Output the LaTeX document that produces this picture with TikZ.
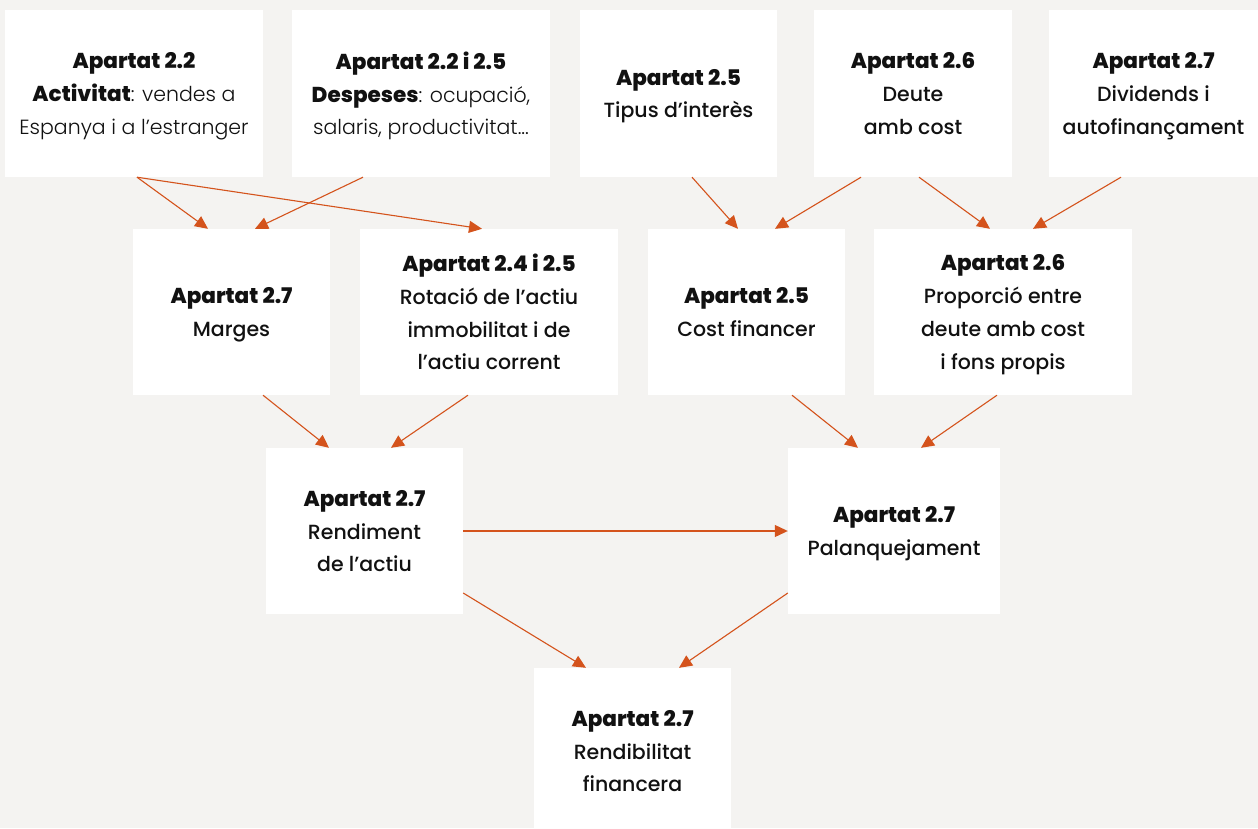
\documentclass[tikz,border=0pt]{standalone}
\usepackage{fontspec}
\setmainfont{Poppins}[UprightFont=* Light, BoldFont=* ExtraBold, BoldFeatures={Scale=1.05}]
\newfontfamily\medfont{Poppins}[UprightFont=* Medium, BoldFont=* ExtraBold, BoldFeatures={Scale=1.05}]
\usetikzlibrary{arrows.meta}
\definecolor{bg}{HTML}{F4F3F1}
\definecolor{arrc}{HTML}{D4531C}
\definecolor{txt}{HTML}{111111}
\tikzset{
  box/.style={fill=white, draw=none, align=center, inner sep=0pt, text=txt,
    text depth=0pt, font=\fontsize{20.5}{32.7}\selectfont},
  mbox/.style={box, font=\fontsize{20.5}{32.7}\selectfont\medfont},
  arr/.style={draw=arrc, line width=1.1pt, -{Triangle[length=13pt,width=12pt]}}
}
\begin{document}
\begin{tikzpicture}[x=1pt,y=-1pt]
\useasboundingbox (0,0) rectangle (1258,828);
\fill[bg] (0,0) rectangle (1258,828);
\begin{scope}
\clip (0,0) rectangle (1258,828);
\node[box, minimum width=258pt, minimum height=167pt] (A) at (134,93.5) {\textbf{Apartat 2.2}\\\textbf{Activitat}: vendes a\\Espanya i a l’estranger};
\node[box, minimum width=258pt, minimum height=167pt] (B) at (421,93.5) {\textbf{Apartat 2.2 i 2.5}\\\textbf{Despeses}: ocupació,\\salaris, productivitat...};
\node[mbox, minimum width=197pt, minimum height=167pt] (C) at (678.5,93.5) {\textbf{Apartat 2.5}\\Tipus d’interès};
\node[mbox, minimum width=198pt, minimum height=167pt] (D) at (913,93.5) {\textbf{Apartat 2.6}\\Deute\\amb cost};
\node[mbox, minimum width=209pt, minimum height=167pt] (E) at (1153.5,93.5) {\textbf{Apartat 2.7}\\Dividends i\\autofinançament};
\node[mbox, minimum width=197pt, minimum height=166pt] (F) at (231.5,312) {\textbf{Apartat 2.7}\\Marges};
\node[mbox, minimum width=258pt, minimum height=166pt] (G) at (489,312) {\textbf{Apartat 2.4 i 2.5}\\Rotació de l’actiu\\immobilitat i de\\l’actiu corrent};
\node[mbox, minimum width=197pt, minimum height=166pt] (H) at (746.5,312) {\textbf{Apartat 2.5}\\Cost financer};
\node[mbox, minimum width=258pt, minimum height=166pt] (I) at (1003,312) {\textbf{Apartat 2.6}\\Proporció entre\\deute amb cost\\i fons propis};
\node[mbox, minimum width=197pt, minimum height=166pt] (J) at (364.5,531) {\textbf{Apartat 2.7}\\Rendiment\\de l’actiu};
\node[mbox, minimum width=212pt, minimum height=166pt] (K) at (894,531) {\textbf{Apartat 2.7}\\Palanquejament};
\node[mbox, minimum width=197pt, minimum height=166pt] (L) at (632.5,751) {\textbf{Apartat 2.7}\\Rendibilitat\\financera};
\end{scope}
\draw[arr] ([xshift=3pt]A.south) -- ([xshift=-23.5pt]F.north);
\draw[arr] ([xshift=3pt]A.south) -- ([xshift=-7pt]G.north);
\draw[arr] ([xshift=-58pt]B.south) -- ([xshift=23.5pt]F.north);
\draw[arr] ([xshift=13.5pt]C.south) -- ([xshift=-8.5pt]H.north);
\draw[arr] ([xshift=-52pt]D.south) -- ([xshift=28.5pt]H.north);
\draw[arr] ([xshift=6pt]D.south) -- ([xshift=-13pt]I.north);
\draw[arr] ([xshift=-32.5pt]E.south) -- ([xshift=30pt]I.north);
\draw[arr] ([xshift=31.5pt]F.south) -- ([xshift=-35.5pt]J.north);
\draw[arr] ([xshift=-21pt]G.south) -- ([xshift=26.5pt]J.north);
\draw[arr] ([xshift=45.5pt]H.south) -- ([xshift=-36pt]K.north);
\draw[arr] ([xshift=-6pt]I.south) -- ([xshift=27pt]K.north);
\draw[arr] (J.east) -- (K.west);
\draw[arr] ([yshift=-62pt]J.east) -- ([xshift=-46.5pt]L.north);
\draw[arr] ([yshift=-62pt]K.west) -- ([xshift=46.5pt]L.north);
\end{tikzpicture}
\end{document}
